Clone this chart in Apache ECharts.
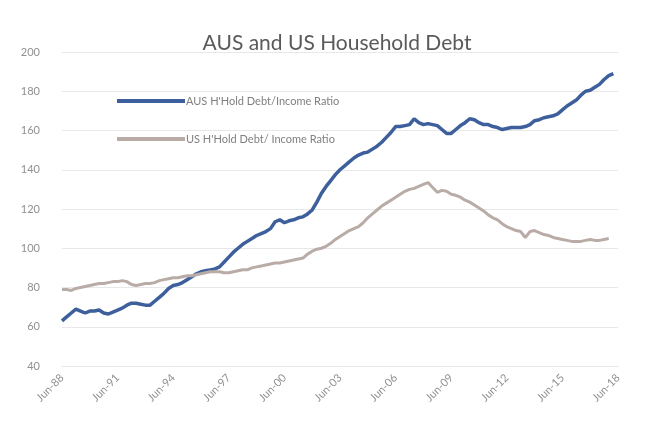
<!DOCTYPE html>
<html>
<head>
<meta charset="utf-8">
<script src="https://cdn.jsdelivr.net/npm/echarts@6/dist/echarts.min.js"></script>
<style>html,body{margin:0;padding:0;background:#fff;}#c{width:672px;height:423px;}</style>
</head>
<body>
<div id="c"></div>
<script>
const chartTitle = "AUS and US Household Debt";
const seriesNames = ["AUS H'Hold Debt/Income Ratio", "US H'Hold Debt/ Income Ratio"];
const categories = [
"Jun-88","Sep-88","Dec-88","Mar-89","Jun-89","Sep-89","Dec-89","Mar-90","Jun-90","Sep-90","Dec-90","Mar-91",
"Jun-91","Sep-91","Dec-91","Mar-92","Jun-92","Sep-92","Dec-92","Mar-93","Jun-93","Sep-93","Dec-93","Mar-94",
"Jun-94","Sep-94","Dec-94","Mar-95","Jun-95","Sep-95","Dec-95","Mar-96","Jun-96","Sep-96","Dec-96","Mar-97",
"Jun-97","Sep-97","Dec-97","Mar-98","Jun-98","Sep-98","Dec-98","Mar-99","Jun-99","Sep-99","Dec-99","Mar-00",
"Jun-00","Sep-00","Dec-00","Mar-01","Jun-01","Sep-01","Dec-01","Mar-02","Jun-02","Sep-02","Dec-02","Mar-03",
"Jun-03","Sep-03","Dec-03","Mar-04","Jun-04","Sep-04","Dec-04","Mar-05","Jun-05","Sep-05","Dec-05","Mar-06",
"Jun-06","Sep-06","Dec-06","Mar-07","Jun-07","Sep-07","Dec-07","Mar-08","Jun-08","Sep-08","Dec-08","Mar-09",
"Jun-09","Sep-09","Dec-09","Mar-10","Jun-10","Sep-10","Dec-10","Mar-11","Jun-11","Sep-11","Dec-11","Mar-12",
"Jun-12","Sep-12","Dec-12","Mar-13","Jun-13","Sep-13","Dec-13","Mar-14","Jun-14","Sep-14","Dec-14","Mar-15",
"Jun-15","Sep-15","Dec-15","Mar-16","Jun-16","Sep-16","Dec-16","Mar-17","Jun-17","Sep-17","Dec-17","Mar-18",
"Jun-18"];
const ausRatio = [
63,65,67,69,68,67,68,68,68.5,67,66.5,67.5,
68.5,69.5,71,72,72,71.5,71,71,73,75,77,79.5,
81,81.5,82.5,84,85.5,87,88,88.5,89,89.5,90.5,93,
95.5,98,100,102,103.5,105,106.5,107.5,108.5,110,113.5,114.5,
113,114,114.5,115.5,116,117.5,119.5,123.5,128,131.5,134.5,137.5,
140,142,144,146,147.5,148.5,149,150.5,152,154,156.5,159,
162,162,162.5,163,166,164,163,163.5,163,162.5,160.5,158.5,
158.5,160.5,162.5,164,166,165.5,164,163,163,162,161.5,160.5,
161,161.5,161.5,161.5,162,163,165,165.5,166.5,167,167.5,168.5,
170.5,172.5,174,175.5,178,180,180.5,182,183.5,186,188,189,
null];
const usRatio = [
79,79,78.5,79.5,80,80.5,81,81.5,82,82,82.5,83,
83,83.5,83,81.5,81,81.5,82,82,82.5,83.5,84,84.5,
85,85,85.5,86,86,86.5,87,87.5,88,88,88,87.5,
87.5,88,88.5,89,89,90,90.5,91,91.5,92,92.5,92.5,
93,93.5,94,94.5,95,97,98.5,99.5,100,101,102.5,104.5,
106,107.5,109,110,111,113,115.5,117.5,119.5,121.5,123,124.5,
126,127.5,129,130,130.5,131.5,132.5,133.5,131,128.5,129.5,129,
127.5,127,126,124.5,123.5,122,120.5,119,117,115.5,114.5,112.5,
111,110,109,108.5,105.5,108.5,109,108,107,106.5,105.5,105,
104.5,104,103.5,103.5,103.5,104,104.5,104,104,104.5,105,null,
null];
const yTicks = {min: 40, max: 200, interval: 20};

const chart = echarts.init(document.getElementById('c'));
chart.setOption({
  backgroundColor: '#ffffff',
  animation: false,
  textStyle: {fontFamily: 'Lato, "Open Sans", sans-serif'},
  title: {
    text: chartTitle,
    left: 332, top: 28, textAlign: 'center',
    textStyle: {fontSize: 21, fontWeight: 'normal', color: '#5a5a5a', fontFamily: 'Lato, "Open Sans", sans-serif'}
  },
  legend: {
    orient: 'vertical',
    left: 112, top: 89,
    itemWidth: 68, itemHeight: 4, itemGap: 24,
    icon: 'rect',
    textStyle: {fontSize: 11, color: '#808080', lineHeight: 14, padding: [0,0,0,-4]},
    data: seriesNames
  },
  grid: {left: 62, right: 54, top: 52, bottom: 57, containLabel: false},
  xAxis: {
    type: 'category',
    data: categories,
    boundaryGap: false,
    axisLine: {show: true, lineStyle: {color: '#e6e6e6'}},
    axisTick: {show: false},
    splitLine: {show: false},
    axisLabel: {interval: 11, rotate: 45, fontSize: 11, color: '#909090', margin: 10}
  },
  yAxis: {
    type: 'value',
    min: yTicks.min, max: yTicks.max, interval: yTicks.interval,
    axisLine: {show: false}, axisTick: {show: false},
    splitLine: {lineStyle: {color: '#e8e8e8', width: 1}},
    axisLabel: {fontSize: 11, color: '#909090', margin: 22}
  },
  series: [
    {name: seriesNames[0], type: 'line', data: ausRatio, showSymbol: false, symbol: 'none',
     lineStyle: {color: '#3d5f9c', width: 3.5}, itemStyle: {color: '#3d5f9c'}},
    {name: seriesNames[1], type: 'line', data: usRatio, showSymbol: false, symbol: 'none',
     lineStyle: {color: '#b9aca7', width: 3}, itemStyle: {color: '#b9aca7'}}
  ]
});
</script>
</body>
</html>
